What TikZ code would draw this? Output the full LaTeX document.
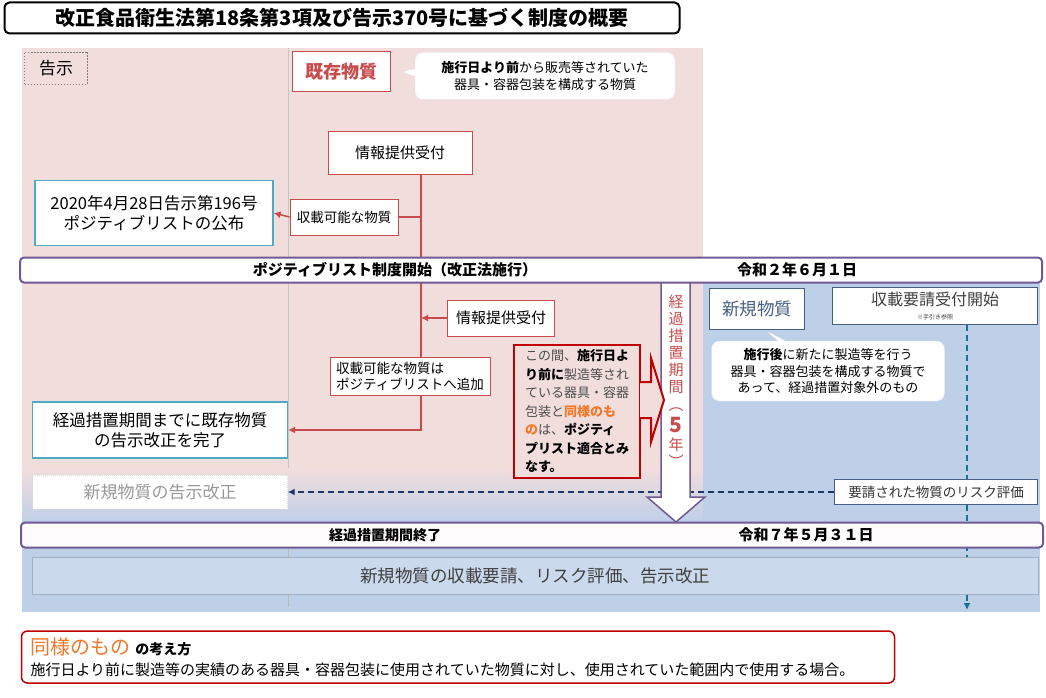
\documentclass[tikz,border=0pt]{standalone}
\usepackage{fontspec}
\setmainfont{Noto Sans CJK JP}
\usepackage{xcolor}
\usepackage{tikz}
\usetikzlibrary{arrows.meta,positioning,shapes.callouts,backgrounds}
\definecolor{pinkbg}{RGB}{242,221,221}
\definecolor{bluebg}{RGB}{190,208,232}
\definecolor{boxred}{RGB}{200,75,75}
\definecolor{darkred}{RGB}{192,0,0}
\definecolor{tealline}{RGB}{75,172,198}
\definecolor{purpleline}{RGB}{112,90,150}
\definecolor{darkblue}{RGB}{31,56,100}
\definecolor{orangetxt}{RGB}{240,120,40}
\definecolor{slate}{RGB}{70,95,130}
\pgfdeclarelayer{back}
\pgfsetlayers{back,background,main}

\begin{document}
\begin{tikzpicture}[
    x=1pt, y=-1pt,
    box/.style={draw, fill=white, align=center, inner sep=2pt},
    redbox/.style={box, draw=boxred, line width=1pt},
    tealbox/.style={box, draw=tealline, line width=1.2pt, font=\fontsize{16.5}{20}\selectfont},
    bluebox/.style={box, draw=slate, line width=1pt},
    band/.style={draw=purpleline, line width=2pt, rounded corners=4pt, fill=white, minimum width=1022pt, minimum height=25pt},
    bandtext/.style={font=\bfseries\fontsize{15}{17}\selectfont, inner sep=0pt},
    bubble/.style={rectangle callout, rounded corners=8pt, fill=white, draw=gray!20, align=center, font=\fontsize{13}{17}\selectfont},
    line/.style={-{Latex[length=7pt,width=7pt]}, boxred, line width=1.5pt},
    dashline/.style={-{Latex[length=7pt,width=7pt]}, darkblue, line width=1.5pt, dash pattern=on 6pt off 4pt}
]
\useasboundingbox (0,0) rectangle (1046,698);

% backgrounds
\begin{pgfonlayer}{back}
\fill[pinkbg] (22,48) rectangle (703,468);
\shade[top color=pinkbg, bottom color=bluebg] (22,468) rectangle (703,522);
\fill[bluebg] (703,283) rectangle (1040,612);
\fill[bluebg] (22,522) rectangle (1040,612);
\draw[gray!45] (288,48) -- (288,468);
\draw[gray!55] (288,547) -- (288,607);
\end{pgfonlayer}

\node[draw, line width=2pt, rounded corners=5pt, minimum width=675pt, minimum height=31pt, font=\bfseries\fontsize{20}{22}\selectfont] (title) at (342,18) {改正食品衛生法第18条第3項及び告示370号に基づく制度の概要};

% above the start date
\node[draw=gray, dash pattern=on 1.5pt off 1.5pt, minimum width=63pt, minimum height=32pt, font=\fontsize{17}{20}\selectfont] (kokuji) at (56,68) {告示};
\node[redbox, minimum width=98pt, minimum height=40pt, text=boxred, font=\bfseries\fontsize{18}{20}\selectfont] (kizon) at (341,72) {既存物質};
\node[bubble, minimum width=260pt, minimum height=47pt, callout absolute pointer={([xshift=9pt]kizon.east)}] (kizonnote) at (545,76) {{\bfseries 施行日より前}から販売等されていた\\器具・容器包装を構成する物質};
\node[redbox, minimum width=144pt, minimum height=43pt, font=\fontsize{15}{18}\selectfont] (joho1) at (400,153) {情報提供受付};
\node[redbox, minimum width=108pt, minimum height=36pt, font=\fontsize{13.5}{16}\selectfont] (shusai1) at (344,217) {収載可能な物質};
\node[tealbox, minimum width=238pt, minimum height=65pt] (pub) at (154,213) {2020年4月28日告示第196号\\ポジティブリストの公布};
\coordinate (spine) at (421,0);

% down arrow of the transition period
\filldraw[draw=purpleline, fill=white, line width=1.5pt] (661,283) -- (661,497) -- (647,497) -- (676,522) -- (705,497) -- (690,497) -- (690,283);
\node[align=center, text=boxred, font=\fontsize{15}{17}\selectfont, inner sep=0pt] (period) at (676,381) {経\\過\\措\\置\\期\\間\\[1pt]︵\\[5pt]{\bfseries\fontsize{21}{17}\selectfont 5}\\[1pt]年\\︶};

\node[band] (band1) at (531,270) {};
\node[bandtext] (start) at (395,270) {ポジティブリスト制度開始（改正法施行）};
\node[bandtext] (startdate) at (797,270) {令和２年６月１日};

% transition period
\node[redbox, minimum width=107pt, minimum height=36pt, font=\fontsize{15}{18}\selectfont] (joho2) at (501,318) {情報提供受付};
\node[redbox, minimum width=160pt, minimum height=38pt, align=left, font=\fontsize{13.5}{16}\selectfont] (shusai2) at (410,376) {収載可能な物質は\\ポジティブリストへ追加};
\node[tealbox, minimum width=255pt, minimum height=56pt] (done) at (160,430) {経過措置期間までに既存物質\\の告示改正を完了};
\node[box, draw=darkred, line width=2pt, fill=pinkbg, minimum width=126pt, minimum height=133pt, align=left, text=black!70, font=\fontsize{13}{18.5}\selectfont] (deemed) at (577,411) {この間、{\bfseries\color{black} 施行日よ}\\{\bfseries\color{black} り前に}製造等され\\ている器具・容器\\包装と{\bfseries\color{orangetxt}同様のも}\\{\bfseries\color{orangetxt}の}は、{\bfseries\color{black} ポジティ}\\{\bfseries\color{black} プリスト適合とみ}\\{\bfseries\color{black} なす。}};
\draw[darkred, line width=2pt, fill=pinkbg] (640,382) -- (651,382) -- (651,358) -- (664,400) -- (651,442) -- (651,418) -- (640,418);
\node[box, draw=gray!30, dash pattern=on 1pt off 1pt, minimum width=255pt, minimum height=34pt, text=gray!80, font=\fontsize{17}{20}\selectfont] (revnew) at (160,492) {新規物質の告示改正};

% new substances
\node[bluebox, minimum width=95pt, minimum height=41pt, text=slate, font=\fontsize{17.5}{20}\selectfont] (shinki) at (757,309) {新規物質};
\node[bubble, minimum width=233pt, minimum height=60pt, callout absolute pointer={([xshift=8pt]shinki.south)}, font=\fontsize{13}{16.5}\selectfont] (shinkinote) at (828,371) {{\bfseries 施行後}に新たに製造等を行う\\器具・容器包装を構成する物質で\\あって、経過措置対象外のもの};
\node[bluebox, minimum width=205pt, minimum height=37pt, text=black!75, font=\fontsize{16}{14}\selectfont] (request) at (935,306) {収載要請受付開始\\{\fontsize{6}{7}\selectfont ※手引き参照}};
\node[bluebox, minimum width=203pt, minimum height=25pt, text=black!80, font=\fontsize{13.5}{16}\selectfont] (risk) at (936,492) {要請された物質のリスク評価};
\coordinate (reqend) at (967,610);

\node[band, fill=white!60!pinkbg!30] (band2) at (532,535) {};
\node[bandtext, font=\bfseries\fontsize{14}{16}\selectfont] (finish) at (385,535) {経過措置期間終了};
\node[bandtext] (finishdate) at (806,535) {令和７年５月３１日};

\node[box, draw=slate!50, fill=bluebg!80!white, minimum width=1006pt, minimum height=37pt, text=black!75, font=\fontsize{17.5}{20}\selectfont] (after) at (535,576) {新規物質の収載要請、リスク評価、告示改正};

\node[draw=darkred, line width=1.5pt, rounded corners=6pt, minimum width=873pt, minimum height=52pt, text width=855pt, align=left, inner sep=6pt, font=\fontsize{15}{21}\selectfont] (note) at (458,657) {{\color{orangetxt}\fontsize{20}{21}\selectfont 同様のもの} {\bfseries\fontsize{14}{21}\selectfont の考え方}\\施行日より前に製造等の実績のある器具・容器包装に使用されていた物質に対し、使用されていた範囲内で使用する場合。};

% connectors
\begin{scope}[on background layer]
\draw[line] (joho1.south -| spine) -- (spine |- done.east) -- (done.east);
\draw[line, -] (shusai1.east) -- (shusai1.east -| spine);
\draw[line] (shusai1.west) -- (pub.east);
\draw[line] (joho2.west) -- (joho2.west -| spine);
\draw[dashline] (risk.west) -- (revnew.east);
\draw[dashline, draw=darkblue!70!cyan] (request.south -| reqend) -- (reqend);
\end{scope}
\end{tikzpicture}
\end{document}
